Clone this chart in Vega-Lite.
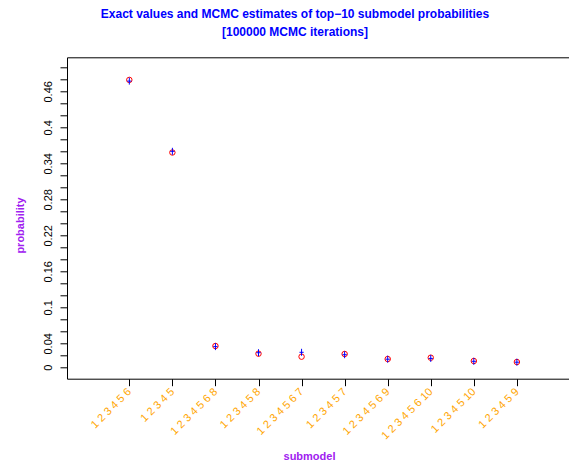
{
  "$schema": "https://vega.github.io/schema/vega-lite/v6.json",
  "width": 502,
  "height": 321.4,
  "autosize": {"type": "none"},
  "padding": {"left": 67, "top": 57.3, "right": 0, "bottom": 85.3},
  "background": "white",
  "config": {
    "view": {"stroke": null},
    "font": "Liberation Sans",
    "axis": {"grid": false, "domainColor": "black", "tickColor": "black", "labelFont": "Liberation Sans", "titleFont": "Liberation Sans", "labelColor": "black"}
  },
  "title": {
    "text": ["Exact values and MCMC estimates of top\u221210 submodel probabilities", "[100000 MCMC iterations]"],
    "font": "Liberation Sans",
    "fontSize": 12,
    "fontWeight": "bold",
    "color": "#0000FF",
    "anchor": "middle",
    "frame": "group",
    "dx": -23,
    "offset": 18,
    "lineHeight": 18
  },
  "data": {
    "values": [
      {"idx": 1, "submodel": "1 2 3 4 5 6", "exact": 0.479, "mcmc": 0.477},
      {"idx": 2, "submodel": "1 2 3 4 5", "exact": 0.358, "mcmc": 0.360},
      {"idx": 3, "submodel": "1 2 3 4 5 6 8", "exact": 0.0355, "mcmc": 0.0345},
      {"idx": 4, "submodel": "1 2 3 4 5 8", "exact": 0.0227, "mcmc": 0.0243},
      {"idx": 5, "submodel": "1 2 3 4 5 6 7", "exact": 0.0177, "mcmc": 0.025},
      {"idx": 6, "submodel": "1 2 3 4 5 7", "exact": 0.0222, "mcmc": 0.021},
      {"idx": 7, "submodel": "1 2 3 4 5 6 9", "exact": 0.0138, "mcmc": 0.0135},
      {"idx": 8, "submodel": "1 2 3 4 5 6 10", "exact": 0.016, "mcmc": 0.0148},
      {"idx": 9, "submodel": "1 2 3 4 5 10", "exact": 0.0105, "mcmc": 0.0100},
      {"idx": 10, "submodel": "1 2 3 4 5 9", "exact": 0.0088, "mcmc": 0.0085}
    ]
  },
  "layer": [
    {
      "mark": {"type": "point", "shape": "circle", "filled": false, "stroke": "#FF0000", "strokeWidth": 1, "size": 30, "opacity": 1},
      "encoding": {
        "x": {
          "field": "idx", "type": "quantitative",
          "scale": {"domain": [-0.447, 11.21], "nice": false, "zero": false},
          "axis": {
            "values": [1, 2, 3, 4, 5, 6, 7, 8, 9, 10],
            "tickCount": 20,
            "labelExpr": "['1 2 3 4 5 6','1 2 3 4 5','1 2 3 4 5 6 8','1 2 3 4 5 8','1 2 3 4 5 6 7','1 2 3 4 5 7','1 2 3 4 5 6 9','1 2 3 4 5 6 10','1 2 3 4 5 10','1 2 3 4 5 9'][datum.value - 1]",
            "labelAngle": 315,
            "labelAlign": "right",
            "labelBaseline": "middle",
            "labelColor": "#FFA500",
            "labelFontSize": 11,
            "labelPadding": 4,
            "labelOverlap": false,
            "labelFlush": false,
            "tickSize": 7,
            "title": "submodel",
            "titleColor": "#A020F0",
            "titleFontSize": 11,
            "titleFontWeight": "bold",
            "titleX": 242,
            "titleY": 78,
            "titleAlign": "center",
            "titleBaseline": "middle"
          }
        },
        "y": {
          "field": "exact", "type": "quantitative",
          "scale": {"domain": [-0.019, 0.5167], "nice": false, "zero": false},
          "axis": {
            "values": [0, 0.02, 0.04, 0.06, 0.08, 0.1, 0.12, 0.14, 0.16, 0.18, 0.2, 0.22, 0.24, 0.26, 0.28, 0.3, 0.32, 0.34, 0.36, 0.38, 0.4, 0.42, 0.44, 0.46, 0.48, 0.5],
            "tickCount": 40,
            "labelExpr": "(round(datum.value*100) % 6 == 4 || round(datum.value*100) == 0) ? format(datum.value, '~g') : ''",
            "labelAngle": 270,
            "labelAlign": "center",
            "labelBaseline": "alphabetic",
            "labelFontSize": 11,
            "labelPadding": 8.4,
            "labelOverlap": false,
            "labelFlush": false,
            "tickSize": 7,
            "title": "probability",
            "titleColor": "#A020F0",
            "titleFontSize": 11,
            "titleFontWeight": "bold",
            "titleAngle": 270,
            "titleX": -47,
            "titleY": 167.7,
            "titleAlign": "center",
            "titleBaseline": "middle"
          }
        }
      }
    },
    {
      "mark": {"type": "point", "shape": "M0,-1L0,1M-0.6,0L0.6,0", "filled": false, "stroke": "#0000FF", "strokeWidth": 1, "size": 49, "opacity": 1},
      "encoding": {
        "x": {
          "field": "idx", "type": "quantitative",
          "axis": {"orient": "top", "labels": false, "ticks": false, "title": null, "domain": true}
        },
        "y": {"field": "mcmc", "type": "quantitative"}
      }
    }
  ],
  "resolve": {"axis": {"x": "independent"}}
}
